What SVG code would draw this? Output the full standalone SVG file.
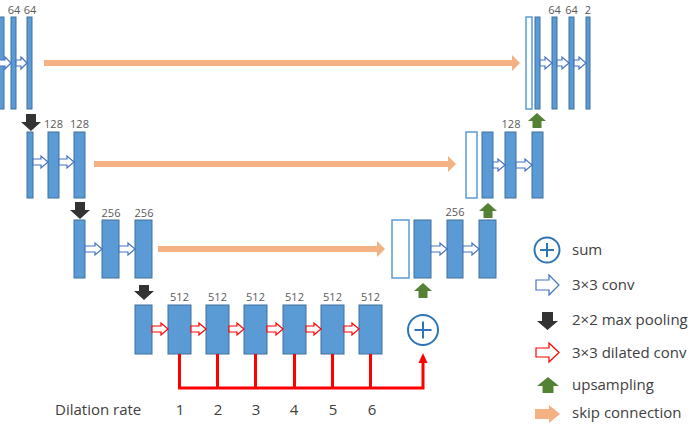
<svg xmlns="http://www.w3.org/2000/svg" width="699" height="431" viewBox="0 0 699 431">
<style>
.bar{fill:#5B9BD5;stroke:#41719C;stroke-width:1}
.wbar{fill:#fff;stroke:#5B9BD5;stroke-width:1.5}
.lbl{font-family:"Open Sans","Noto Sans",sans-serif;font-size:11px;fill:#595959;text-anchor:middle}
.txt{font-family:"Open Sans","Noto Sans",sans-serif;font-size:15px;fill:#404040}
.conv{fill:#fff;stroke:#4472C4;stroke-width:1.2;stroke-linejoin:miter}
.dil{fill:#fff;stroke:#FF0000;stroke-width:1.2}
.pool{fill:#333333}
.up{fill:#548235}
.skip{fill:#F4B183}
.red{fill:none;stroke:#FF0000;stroke-width:3}
</style>
<rect width="699" height="431" fill="#fff"/>

<!-- Level 1 encoder -->
<g id="enc1">
<rect class="bar" x="-2" y="17" width="6" height="92"/>
<rect class="bar" x="11" y="17" width="5" height="92"/>
<rect class="bar" x="27" y="17" width="5" height="92"/>
<text class="lbl" x="14" y="14">64</text>
<text class="lbl" x="30" y="14">64</text>
</g>
<!-- Level 2 encoder -->
<g id="enc2">
<rect class="bar" x="27" y="132" width="6" height="66"/>
<rect class="bar" x="48" y="132" width="11" height="66"/>
<rect class="bar" x="74" y="132" width="11" height="66"/>
<text class="lbl" x="53.5" y="128">128</text>
<text class="lbl" x="79.5" y="128">128</text>
</g>
<!-- Level 3 encoder -->
<g id="enc3">
<rect class="bar" x="74" y="220" width="11" height="58"/>
<rect class="bar" x="102" y="220" width="17" height="58"/>
<rect class="bar" x="135" y="220" width="17" height="58"/>
<text class="lbl" x="111" y="217">256</text>
<text class="lbl" x="144" y="217">256</text>
</g>
<!-- Level 4 dilated -->
<g id="bottleneck">
<rect class="bar" x="135" y="305" width="17" height="49"/>
<rect class="bar" x="168" y="305" width="23" height="49"/>
<rect class="bar" x="206" y="305" width="23" height="49"/>
<rect class="bar" x="244" y="305" width="23" height="49"/>
<rect class="bar" x="283" y="305" width="23" height="49"/>
<rect class="bar" x="321" y="305" width="23" height="49"/>
<rect class="bar" x="359" y="305" width="23" height="49"/>
<text class="lbl" x="179.5" y="301">512</text>
<text class="lbl" x="217.5" y="301">512</text>
<text class="lbl" x="255.5" y="301">512</text>
<text class="lbl" x="294.5" y="301">512</text>
<text class="lbl" x="332.5" y="301">512</text>
<text class="lbl" x="370.5" y="301">512</text>
</g>
<!-- Sum node -->
<g id="sum">
<circle cx="423" cy="330" r="15" fill="#fff" stroke="#2E75B6" stroke-width="2"/>
<path d="M414.5 330H431.5M423 321.5V338.5" stroke="#2E75B6" stroke-width="2"/>
</g>
<!-- Level 3 decoder -->
<g id="dec3">
<rect class="wbar" x="392" y="220" width="17" height="58"/>
<rect class="bar" x="414" y="220" width="17" height="58"/>
<rect class="bar" x="447" y="220" width="16" height="58"/>
<rect class="bar" x="479" y="220" width="17" height="58"/>
<text class="lbl" x="455" y="216">256</text>
</g>
<!-- Level 2 decoder -->
<g id="dec2">
<rect class="wbar" x="466" y="132" width="11" height="66"/>
<rect class="bar" x="482" y="132" width="11" height="66"/>
<rect class="bar" x="505" y="132" width="11" height="66"/>
<rect class="bar" x="532" y="132" width="11" height="66"/>
<text class="lbl" x="511" y="128">128</text>
</g>
<!-- Level 1 decoder -->
<g id="dec1">
<rect class="wbar" x="526" y="17" width="6" height="92"/>
<rect class="bar" x="535" y="17" width="5" height="92"/>
<rect class="bar" x="552" y="17" width="5" height="92"/>
<rect class="bar" x="569" y="17" width="5" height="92"/>
<rect class="bar" x="586" y="17" width="4" height="92"/>
<text class="lbl" x="554.5" y="14">64</text>
<text class="lbl" x="571.5" y="14">64</text>
<text class="lbl" x="588" y="14">2</text>
</g>

<g id="connectors">
<!-- conv arrows -->
<polygon class="conv" points="-1,60 5,60 5,57 11,63 5,69 5,66 -1,66"/>
<polygon class="conv" points="16,60 21,60 21,57 27,63 21,69 21,66 16,66"/>
<polygon class="conv" points="33,159 41,159 41,156 48,162 41,168 41,165 33,165"/>
<polygon class="conv" points="59,159 67,159 67,156 74,162 67,168 67,165 59,165"/>
<polygon class="conv" points="85,246 95,246 95,243 102,249 95,255 95,252 85,252"/>
<polygon class="conv" points="119,246 128,246 128,243 135,249 128,255 128,252 119,252"/>
<polygon class="conv" points="431,246 440,246 440,243 447,249 440,255 440,252 431,252"/>
<polygon class="conv" points="463,246 472,246 472,243 479,249 472,255 472,252 463,252"/>
<polygon class="conv" points="493,162 498,162 498,159 505,165 498,171 498,168 493,168"/>
<polygon class="conv" points="516,162 525,162 525,159 532,165 525,171 525,168 516,168"/>
<polygon class="conv" points="540,60 545,60 545,57 552,63 545,69 545,66 540,66"/>
<polygon class="conv" points="557,60 562,60 562,57 569,63 562,69 562,66 557,66"/>
<polygon class="conv" points="574,60 579,60 579,57 586,63 579,69 579,66 574,66"/>
<!-- dilated conv arrows -->
<polygon class="dil" points="152,326 161,326 161,323 168,329 161,335 161,332 152,332"/>
<polygon class="dil" points="191,326 199,326 199,323 206,329 199,335 199,332 191,332"/>
<polygon class="dil" points="229,326 237,326 237,323 244,329 237,335 237,332 229,332"/>
<polygon class="dil" points="267,326 276,326 276,323 283,329 276,335 276,332 267,332"/>
<polygon class="dil" points="306,326 314,326 314,323 321,329 314,335 314,332 306,332"/>
<polygon class="dil" points="344,326 352,326 352,323 359,329 352,335 352,332 344,332"/>
<!-- skip connections -->
<polygon class="skip" points="44,60 512,60 512,55 520,63 512,71 512,66 44,66"/>
<polygon class="skip" points="94,161 448,161 448,156 456,164 448,172 448,167 94,167"/>
<polygon class="skip" points="158,246 377,246 377,241 385,249 377,257 377,252 158,252"/>
<!-- max pooling -->
<polygon class="pool" points="26,114 36,114 36,122 41,122 31,131 21,122 26,122"/>
<polygon class="pool" points="75,202 85,202 85,210 90,210 80,219 70,210 75,210"/>
<polygon class="pool" points="139,285 149,285 149,291 154,291 144,300 134,291 139,291"/>
<!-- upsampling -->
<polygon class="up" points="537,113 546,121 541.5,121 541.5,128 532.5,128 532.5,121 528,121"/>
<polygon class="up" points="488,203 497,211 492.5,211 492.5,218 483.5,218 483.5,211 479,211"/>
<polygon class="up" points="423,283 432,291 427.5,291 427.5,298 418.5,298 418.5,291 414,291"/>
<!-- dilation sum lines -->
<path class="red" d="M179.5 354V388M217.5 354V388M255.5 354V388M294.5 354V388M332.5 354V388M370.5 354V388"/>
<path class="red" d="M178 388H423V362"/>
<polygon points="423,353 418.5,363 427.5,363" fill="#FF0000"/>
</g>

<!-- Dilation rate labels -->
<g id="dilation-labels">
<text class="txt" x="55" y="415">Dilation rate</text>
<text class="txt" x="180" y="415" text-anchor="middle">1</text>
<text class="txt" x="218" y="415" text-anchor="middle">2</text>
<text class="txt" x="256" y="415" text-anchor="middle">3</text>
<text class="txt" x="294" y="415" text-anchor="middle">4</text>
<text class="txt" x="333" y="415" text-anchor="middle">5</text>
<text class="txt" x="372" y="415" text-anchor="middle">6</text>
</g>

<!-- Legend -->
<g id="legend">
<circle cx="547" cy="250" r="12.5" fill="#fff" stroke="#2E75B6" stroke-width="2"/>
<path d="M540 250H554M547 243V257" stroke="#2E75B6" stroke-width="2"/>
<text class="txt" x="572" y="255">sum</text>
<polygon class="conv" points="536,280 549,280 549,275 559,285 549,295 549,290 536,290"/>
<text class="txt" x="572" y="290">3×3 conv</text>
<polygon class="pool" points="542,312 553,312 553,321 558,321 547.5,330 537,321 542,321"/>
<text class="txt" x="572" y="325">2×2 max pooling</text>
<polygon class="dil" points="536,348 549,348 549,343 559,352.5 549,362 549,357 536,357"/>
<text class="txt" x="572" y="358">3×3 dilated conv</text>
<polygon class="up" points="548,377 559,386 553.5,386 553.5,393 542.5,393 542.5,386 537,386"/>
<text class="txt" x="572" y="390">upsampling</text>
<polygon class="skip" points="535,409 549,409 549,405 560,414 549,423 549,419 535,419"/>
<text class="txt" x="572" y="418">skip connection</text>
</g>
</svg>
